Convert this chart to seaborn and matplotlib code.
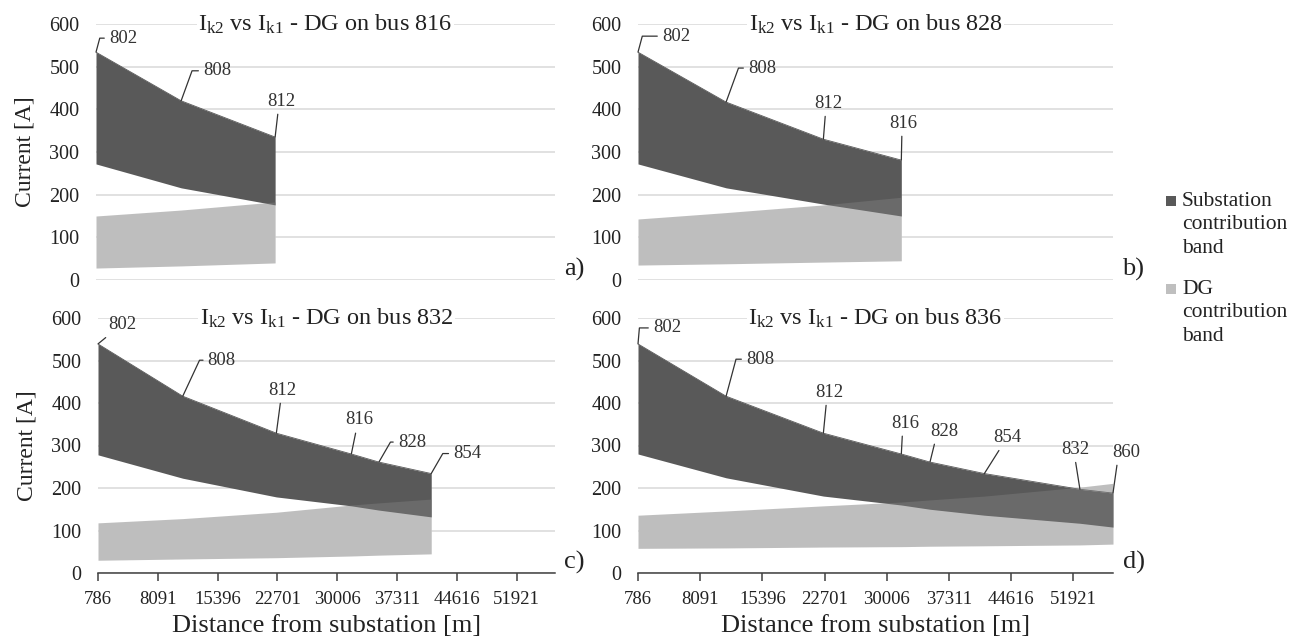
import numpy as np
import pandas as pd
import seaborn as sns
import matplotlib.pyplot as plt
from matplotlib.patches import Rectangle

# bus positions along the feeder [m]
bus_pos = {"802": 786, "808": 11137, "812": 22567, "816": 31726,
           "828": 35094, "854": 41483, "832": 52712, "860": 56598}

# panel a) DG on bus 816
a_buses = ["802", "808", "812"]
a_sub_hi = [534, 420, 335]
a_sub_lo = [272, 216, 176]
a_dg_hi = [150, 164, 183]
a_dg_lo = [28, 33, 40]

# panel b) DG on bus 828
b_buses = ["802", "808", "812", "816"]
b_sub_hi = [534, 417, 330, 281]
b_sub_lo = [272, 216, 178, 150]
b_dg_hi = [143, 158, 176, 194]
b_dg_lo = [35, 38, 42, 45]

# panel c) DG on bus 832
c_buses = ["802", "808", "812", "816", "828", "854"]
c_sub_hi = [539, 416, 329, 280, 261, 234]
c_sub_lo = [278, 223, 179, 158, 148, 132]
c_dg_hi = [118, 128, 143, 160, 165, 174]
c_dg_lo = [30, 33, 36, 40, 42, 45]

# panel d) DG on bus 836
d_buses = ["802", "808", "812", "816", "828", "854", "832", "860"]
d_sub_hi = [539, 416, 329, 280, 261, 234, 197, 188]
d_sub_lo = [280, 224, 181, 160, 150, 136, 117, 108]
d_dg_hi = [136, 146, 158, 167, 172, 181, 202, 211]
d_dg_lo = [58, 59, 61, 62, 63, 64, 66, 68]

xticks = [786, 8091, 15396, 22701, 30006, 37311, 44616, 51921]

legend_labels = ["Substation\ncontribution\nband", "DG\ncontribution\nband"]

panels = [
    ("816", "a)", a_buses, a_sub_hi, a_sub_lo, a_dg_hi, a_dg_lo),
    ("828", "b)", b_buses, b_sub_hi, b_sub_lo, b_dg_hi, b_dg_lo),
    ("832", "c)", c_buses, c_sub_hi, c_sub_lo, c_dg_hi, c_dg_lo),
    ("836", "d)", d_buses, d_sub_hi, d_sub_lo, d_dg_hi, d_dg_lo),
]

# label offsets in pixels: (dx, dy, kind, angle/relpos)
label_style = [
    {"802": (27, -14, "h", 75), "808": (36, -30, "h", 70), "812": (6, -36, "s", 0.4)},
    {"802": (38, -16, "h", 75), "808": (36, -34, "h", 70), "812": (5, -36, "s", 0.4),
     "816": (2, -37, "s", 0.45)},
    {"802": (24, -19, "s", 0.1), "808": (39, -36, "h", 65), "812": (6, -43, "s", 0.45),
     "816": (8, -34, "s", 0.4), "828": (33, -20, "h", 60), "854": (36, -20, "h", 60)},
    {"802": (29, -16, "h", 85), "808": (34, -37, "h", 75), "812": (6, -41, "s", 0.4),
     "816": (4, -31, "s", 0.4), "828": (14, -31, "s", 0.2), "854": (23, -36, "s", 0.3),
     "832": (-5, -40, "s", 0.5), "860": (13, -41, "s", 0.2)},
]

sns.set_theme(style="white")
plt.rcParams["font.family"] = ["Liberation Serif", "DejaVu Serif"]
plt.rcParams["mathtext.fontset"] = "custom"
plt.rcParams["mathtext.rm"] = "Liberation Serif"
plt.rcParams["mathtext.it"] = "Liberation Serif:italic"

DARK = "#595959"
LIGHT = "#7c7c7c"
LIGHT_SOLID = "#bfbfbf"
GRID = "#d9d9d9"
TXT = "#222222"
W, H = 1302, 642

fig = plt.figure(figsize=(W / 100, H / 100), dpi=100)

# axes boxes in pixels: left, right, top, bottom
boxes = [(96, 555, 24, 280), (638, 1113, 24, 280),
         (98, 555, 318, 573), (638, 1113, 318, 573)]

px2pt = 72 / 100

for i, (dg_bus, tag, buses, s_hi, s_lo, g_hi, g_lo) in enumerate(panels):
    l, r, t, b = boxes[i]
    ax = fig.add_axes([l / W, 1 - b / H, (r - l) / W, (b - t) / H])
    x = [bus_pos[k] for k in buses]
    df = pd.DataFrame({"x": x, "s_hi": s_hi, "s_lo": s_lo, "g_hi": g_hi, "g_lo": g_lo})

    # white under the DG band so gridlines do not show through it
    ax.fill_between(df["x"], df["g_lo"], df["g_hi"], color="white", lw=0, zorder=1)
    ax.fill_between(df["x"], df["s_lo"], df["s_hi"], color=DARK, lw=0, zorder=2)
    sns.lineplot(data=df, x="x", y="s_hi", ax=ax, color=DARK, lw=0.6, zorder=2)
    ax.fill_between(df["x"], df["g_lo"], df["g_hi"], color=LIGHT, alpha=0.49, lw=0, zorder=3)

    ax.set_xlim(786, 56598)
    ax.set_ylim(0, 600)
    ax.set_yticks(range(0, 601, 100))
    ax.grid(axis="y", color=GRID, lw=1.1, zorder=0)
    ax.grid(axis="x", visible=False)
    ax.set_axisbelow(True)
    for sp in ax.spines.values():
        sp.set_visible(False)
    ax.tick_params(axis="y", length=0, pad=12, labelsize=14.5, labelcolor=TXT)
    ax.set_xlabel("")
    ax.set_ylabel("")

    if i >= 2:
        ax.spines["bottom"].set_visible(True)
        ax.spines["bottom"].set_color("#404040")
        ax.spines["bottom"].set_linewidth(1.1)
        ax.set_xticks(xticks)
        ax.tick_params(axis="x", length=6, width=1.1, color="#404040", direction="out",
                       pad=7, labelsize=13.5, labelcolor=TXT, bottom=True)
        ax.set_xlabel("Distance from substation [m]", fontsize=19, labelpad=5, color=TXT)
    else:
        ax.set_xticks([])

    if i % 2 == 0:
        ax.set_ylabel("Current [A]", fontsize=17, labelpad=10, color=TXT)

    ax.text(0.5, 1.0, r"I$_{\mathrm{k2}}$ vs I$_{\mathrm{k1}}$ - DG on bus " + dg_bus,
            transform=ax.transAxes, ha="center", va="center", fontsize=17.5, color=TXT,
            bbox=dict(facecolor="white", edgecolor="none", pad=1), zorder=5)
    ax.text(1.02, 0.04, tag, transform=ax.transAxes, ha="left", va="center",
            fontsize=19, color=TXT)

    for k, xv, yv in zip(buses, x, s_hi):
        dx, dy, kind, par = label_style[i][k]
        if kind == "h":
            ap = dict(arrowstyle="-", color="#333333", lw=0.9, shrinkA=1, shrinkB=0,
                      relpos=(0, 0.5),
                      connectionstyle="angle,angleA=0,angleB=%d,rad=0" % par)
        else:
            ap = dict(arrowstyle="-", color="#333333", lw=0.9, shrinkA=1, shrinkB=0,
                      relpos=(par, 0))
        ax.annotate(k, xy=(xv, yv), xytext=(dx * px2pt, -dy * px2pt),
                    textcoords="offset points", ha="center", va="center",
                    fontsize=13.5, color="#333333", arrowprops=ap, zorder=6)

# legend drawn by hand so the square sits on the first text line
for j, (lab, col) in enumerate(zip(legend_labels, [DARK, LIGHT_SOLID])):
    ytop = 192 + j * 88
    fig.add_artist(Rectangle((1166 / W, 1 - (ytop + 14) / H), 10 / W, 10 / H,
                             transform=fig.transFigure, facecolor=col, edgecolor="none"))
    fig.text(1182 / W, 1 - ytop / H, lab, ha="left", va="top", fontsize=15.5,
             fontfamily="Liberation Serif", color=TXT, linespacing=1.32)

fig.savefig("out.png", dpi=100)
